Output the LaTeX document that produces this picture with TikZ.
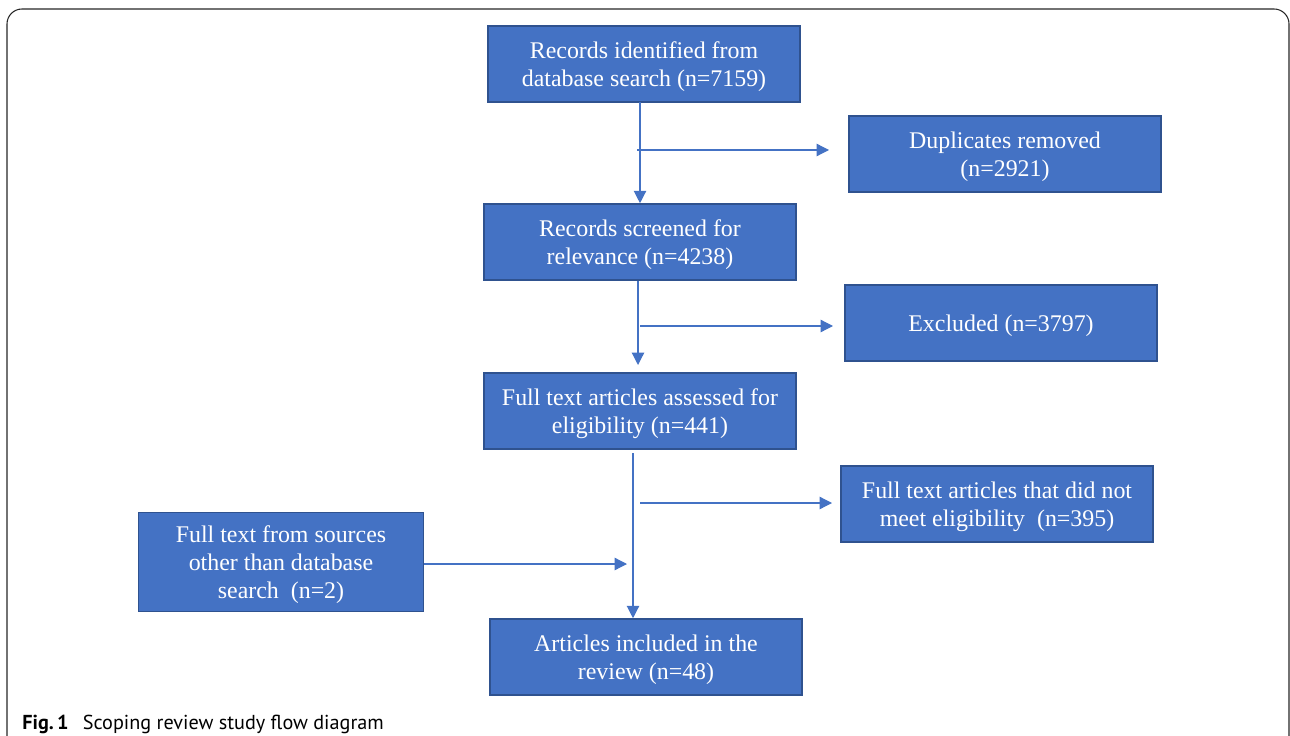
\documentclass[tikz,border=0pt]{standalone}
\usepackage{fontspec}
\setmainfont{Liberation Serif}
\newfontfamily\capfont{PT Sans}
\usetikzlibrary{arrows.meta}

\definecolor{boxfill}{HTML}{4472C4}
\definecolor{boxline}{HTML}{2F528F}
\tikzset{
  stage/.style={draw=boxline, line width=0.9pt, fill=boxfill, text=white,
    align=center, minimum width=6.24cm, minimum height=1.52cm,
    inner sep=2pt, text depth=-2pt, font=\fontsize{13.6}{16}\selectfont},
  flow/.style={draw=boxfill, line width=0.7pt, -{Triangle[length=7pt, width=7pt]}},
}

\begin{document}
\begin{tikzpicture}[x=0.02cm, y=-0.02cm]
\useasboundingbox (0,0) rectangle (1290,736);
\begin{scope}
\clip (0,0) rectangle (1290,736);
\draw[black!85, line width=0.6pt, rounded corners=0.3cm] (7,9) rectangle (1289,760);
\end{scope}

\node[stage] (rec-ident)   at (644,64)  {Records identified from\\database search (n=7159)};
\node[stage] (dup)         at (1005,154) {Duplicates removed\\(n=2921)};
\node[stage] (rec-screen)  at (640,242) {Records screened for\\relevance (n=4238)};
\node[stage] (excl)        at (1001,323) {Excluded (n=3797)};
\node[stage] (full-assess) at (640,411) {Full text articles assessed for\\eligibility (n=441)};
\node[stage] (full-excl)   at (997,504) {Full text articles that did not\\meet eligibility\ \ (n=395)};
\node[stage, minimum width=5.7cm, minimum height=1.98cm]
             (other-src)   at (281,562) {Full text from sources\\other than database\\search\ \ (n=2)};
\node[stage] (incl)        at (646,657) {Articles included in the\\review (n=48)};

\coordinate (dup-from)   at (637,150);
\coordinate (dup-to)     at (829,150);
\coordinate (excl-from)  at (640,326);
\coordinate (excl-to)    at (833,326);
\coordinate (full-top)   at (633,453);
\coordinate (fexcl-from) at (640,503);
\coordinate (fexcl-to)   at (832,503);
\coordinate (other-to)   at (627,564);
\coordinate (screen-to)  at (638,365);
\coordinate (ident-foot) at (640,102);

\draw[flow] (ident-foot) -- (ident-foot |- rec-screen.north);
\draw[flow] (dup-from) -- (dup-to);
\draw[flow] (screen-to |- rec-screen.south) -- (screen-to);
\draw[flow] (excl-from) -- (excl-to);
\draw[flow] (full-top) -- (full-top |- incl.north);
\draw[flow] (fexcl-from) -- (fexcl-to);
\draw[flow] (other-src.east |- other-to) -- (other-to);

\node[anchor=base west, inner sep=0pt, font=\capfont\fontsize{11.5}{13}\selectfont]
  (caption) at (22,729) {\textbf{Fig.\,1}\hspace{0.7em}Scoping review study flow diagram};
\end{tikzpicture}
\end{document}
